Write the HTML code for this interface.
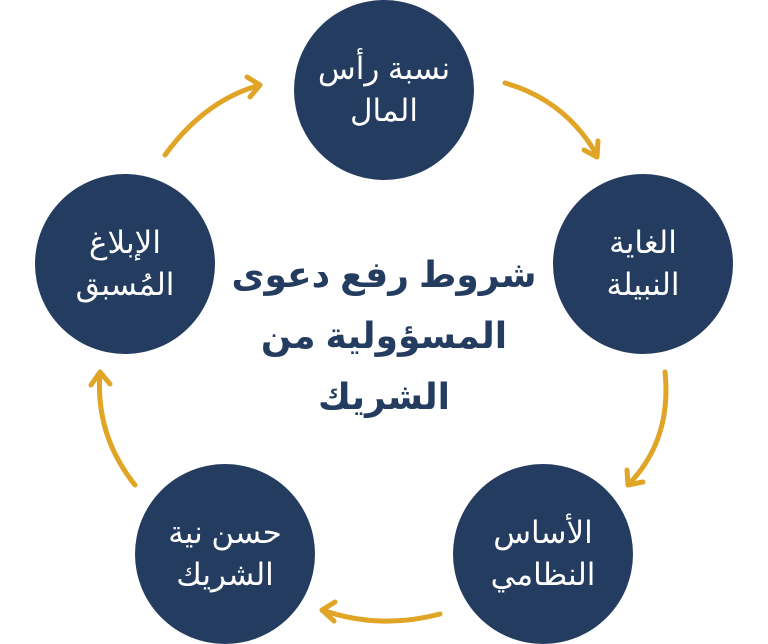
<!DOCTYPE html>
<html><head><meta charset="utf-8"><style>
body{margin:0;width:768px;height:644px;background:#fff;overflow:hidden;position:relative;font-family:"Liberation Sans","Noto Sans CJK SC","DejaVu Sans",sans-serif}
.c{position:absolute;width:180px;height:180px;border-radius:50%;background:#233C60;color:#fff;display:flex;align-items:center;justify-content:center;text-align:center;font-size:31px;line-height:42px;direction:rtl}
.t{position:absolute;left:184px;top:244px;width:400px;text-align:center;color:#233C60;font-weight:bold;font-size:36px;line-height:61px;direction:rtl}
svg{position:absolute;left:0;top:0}
</style></head><body>
<svg width="768" height="644" fill="none" stroke="#E0A526" stroke-width="5" stroke-linecap="round" stroke-linejoin="round">
<path d="M505 83 Q565 100 597 155"/><polyline points="584,150 597,157 598,141"/>
<path d="M665 372 Q672 440 628 485"/><polyline points="627,470 628,485 643,482"/>
<path d="M440 614 Q380 630 322 610"/><polyline points="335,602 322,610 334,621"/>
<path d="M135 485 Q95 435 100 372"/><polyline points="91,385 100,372 110,384"/>
<path d="M165 155 Q205 100 260 85"/><polyline points="247,77 260,85 250,97"/>
</svg>
<div class="c" style="left:294px;top:0">نسبة رأس<br>المال</div>
<div class="c" style="left:553px;top:174px">الغاية<br>النبيلة</div>
<div class="c" style="left:453px;top:464px">الأساس<br>النظامي</div>
<div class="c" style="left:135px;top:464px">حسن نية<br>الشريك</div>
<div class="c" style="left:35px;top:174px">الإبلاغ<br>المُسبق</div>
<div class="t">شروط رفع دعوى<br>المسؤولية من<br>الشريك</div>
</body></html>
